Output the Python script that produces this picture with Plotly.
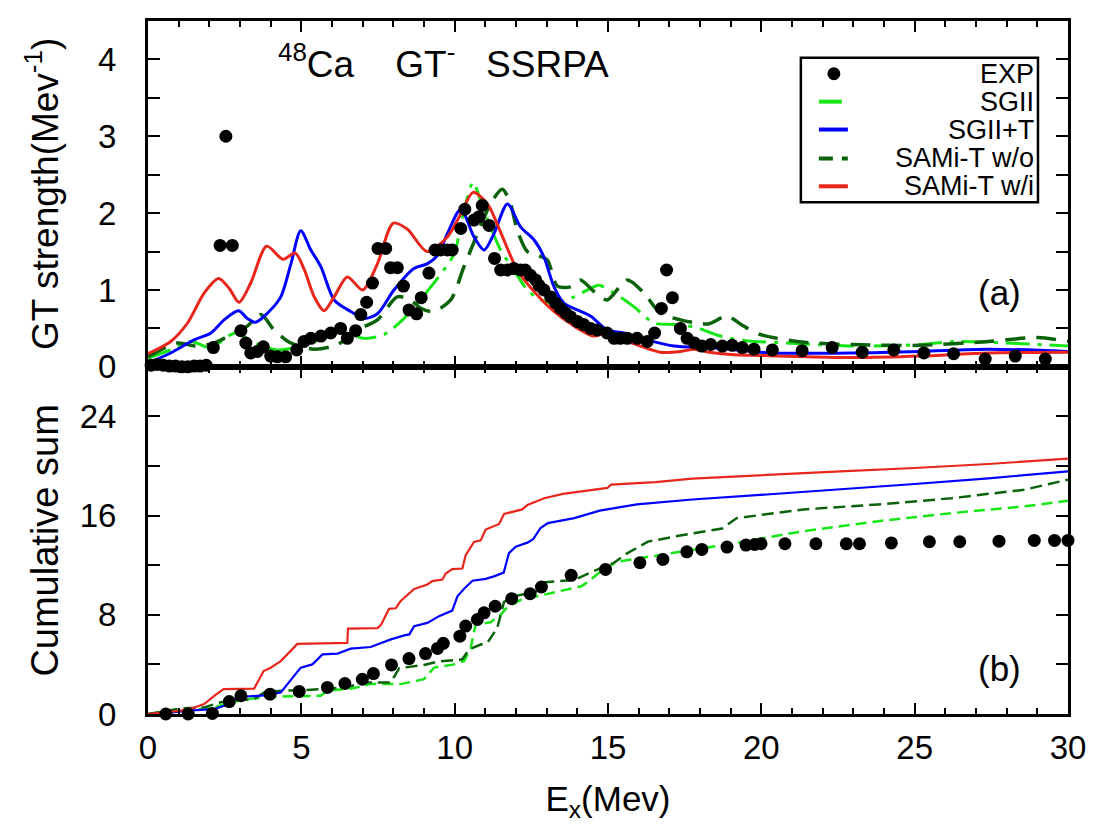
import plotly.graph_objects as go

# ---------------- top panel (a): GT strength ----------------
exp_e = [0.1, 0.3, 0.5, 0.7, 0.9, 1.1, 1.3, 1.5, 1.7, 1.9, 2.13, 2.35, 2.54, 2.75, 3.03, 3.19, 3.35, 3.57, 3.76,
         4.0, 4.22, 4.49, 4.85, 5.09, 5.31, 5.64, 5.96, 6.28, 6.5, 6.77, 6.94, 7.13, 7.32, 7.5, 7.75, 7.91,
         8.13, 8.33, 8.51, 8.76, 8.91, 9.16, 9.36, 9.54, 9.76, 9.92, 10.2, 10.33, 10.63, 10.79, 10.9, 11.12,
         11.3, 11.5, 11.72, 11.93, 12.15, 12.3, 12.47, 12.64, 12.75, 12.91, 13.13, 13.29, 13.45, 13.62, 13.78,
         14.0, 14.21, 14.43, 14.65, 14.97, 15.2, 15.4, 15.63, 15.95, 16.28, 16.52, 16.74, 16.91, 17.1, 17.36,
         17.58, 17.82, 18.06, 18.35, 18.73, 19.05, 19.38, 19.76, 20.36, 21.33, 22.31, 23.29, 24.32, 25.3,
         26.27, 27.3, 28.28, 29.26]
exp_s = [0.02, 0.03, 0.02, 0.01, 0.01, 0.0, 0.0, 0.01, 0.01, 0.02, 0.25, 1.58, 3.0, 1.58, 0.47, 0.31, 0.18, 0.20, 0.26,
         0.14, 0.13, 0.13, 0.22, 0.33, 0.37, 0.40, 0.44, 0.50, 0.37, 0.47, 0.68, 0.84, 1.09, 1.54, 1.54, 1.29,
         1.29, 1.05, 0.74, 0.69, 0.90, 1.22, 1.52, 1.52, 1.52, 1.52, 1.80, 2.05, 1.91, 1.95, 2.10, 1.84,
         1.41, 1.26, 1.26, 1.28, 1.26, 1.26, 1.19, 1.13, 1.06, 1.00, 0.91, 0.83, 0.76, 0.70, 0.65,
         0.59, 0.55, 0.50, 0.48, 0.44, 0.37, 0.37, 0.37, 0.37, 0.33, 0.44, 0.76, 1.26, 0.90, 0.50,
         0.37, 0.31, 0.27, 0.29, 0.27, 0.28, 0.25, 0.23, 0.22, 0.21, 0.25, 0.19, 0.22, 0.18,
         0.17, 0.10, 0.14, 0.10]

sgii_e = [0.0, 0.74, 1.4, 2.05, 2.7, 2.92, 3.46, 4.22, 4.98, 5.74, 6.39, 7.05, 7.7, 8.35, 9.0, 9.44, 9.98, 10.3,
          10.6, 10.85, 11.17, 11.5, 11.93, 12.37, 12.8, 13.24, 13.89, 14.43, 14.7, 15.2, 15.85, 16.5, 17.15,
          17.8, 18.67, 19.5, 20.8, 23.0, 25.2, 26.3, 28.5, 30.0]
sgii_s = [0.11, 0.22, 0.33, 0.25, 0.42, 0.44, 0.31, 0.22, 0.27, 0.37, 0.44, 0.37, 0.42, 0.63, 0.93, 1.15, 1.47, 2.03,
          2.40, 2.16, 1.82, 1.52, 1.26, 1.00, 0.87, 0.83, 0.91, 1.02, 1.06, 0.96, 0.78, 0.57, 0.55,
          0.52, 0.40, 0.34, 0.31, 0.27, 0.29, 0.33, 0.30, 0.27]

sgiit_e = [0.0, 0.74, 1.5, 2.05, 2.48, 2.95, 3.24, 3.51, 3.9, 4.33, 4.66, 4.98, 5.31, 5.64, 6.07, 6.61, 7.05, 7.48,
           8.02, 8.67, 9.1, 9.44, 9.76, 10.2, 10.63, 10.96, 11.28, 11.72, 12.15, 12.59, 12.91, 13.24, 13.56,
           14.0, 14.43, 14.97, 15.52, 16.28, 17.15, 18.24, 19.2, 20.3, 23.0, 25.2, 27.4, 30.0]
sgiit_s = [0.05, 0.18, 0.35, 0.44, 0.61, 0.73, 0.63, 0.58, 0.70, 0.91, 1.34, 1.77, 1.52, 1.30, 0.87, 0.72, 0.63, 0.69,
           1.00, 1.28, 1.34, 1.45, 1.73, 2.05, 1.69, 1.52, 1.73, 2.12, 1.82, 1.65, 1.43, 1.04, 0.83,
           0.74, 0.66, 0.48, 0.44, 0.35, 0.27, 0.25, 0.22, 0.18, 0.18, 0.20, 0.23, 0.20]

wo_e = [0.0, 0.96, 1.56, 2.16, 2.81, 3.24, 3.68, 4.11, 4.66, 5.42, 6.18, 6.83, 7.48, 8.13, 8.56, 8.9, 9.3, 9.87,
        10.3, 10.74, 11.17, 11.55, 11.8, 12.04, 12.37, 12.7, 13.02, 13.35, 13.78, 14.1, 14.54, 14.97, 15.63,
        16.17, 16.7, 17.36, 17.9, 18.3, 18.88, 19.42, 19.97, 21.4, 23.0, 25.2, 27.4, 29.0, 30.0]
wo_s = [0.13, 0.31, 0.27, 0.31, 0.44, 0.53, 0.68, 0.48, 0.31, 0.23, 0.29, 0.48, 0.61, 0.91, 0.87, 0.76, 0.72, 0.87,
        1.30, 1.73, 2.12, 2.31, 2.15, 1.78, 1.50, 1.45, 1.39, 1.05, 1.04, 1.13, 0.98, 0.87, 1.13,
        0.96, 0.70, 0.61, 0.57, 0.56, 0.66, 0.53, 0.42, 0.32, 0.29, 0.28, 0.33, 0.38, 0.33]

wi_e = [0.0, 0.74, 1.29, 1.83, 2.3, 2.65, 2.97, 3.35, 3.87, 4.4, 4.8, 5.1, 5.42, 5.74, 6.07, 6.5, 7.0, 7.48, 8.0,
        8.46, 9.1, 9.76, 10.2, 10.6, 11.07, 11.5, 12.04, 12.59, 13.24, 13.89, 14.54, 15.03, 15.52, 16.06,
        16.7, 17.36, 17.8, 18.3, 19.0, 20.0, 21.5, 23.0, 25.2, 27.4, 30.0]
wi_s = [0.17, 0.33, 0.57, 0.96, 1.15, 1.02, 0.84, 1.09, 1.57, 1.40, 1.48, 1.26, 0.91, 0.73, 0.91, 1.17, 1.00, 1.34, 1.87,
        1.79, 1.50, 1.69, 1.99, 2.27, 2.12, 1.75, 1.26, 0.98, 0.72, 0.53, 0.40, 0.45, 0.35, 0.27,
        0.19, 0.20, 0.23, 0.19, 0.16, 0.146, 0.13, 0.12, 0.14, 0.18, 0.19]

# ---------------- bottom panel (b): cumulative sum ----------------
cexp_e = [0.58, 1.31, 2.1, 2.65, 3.03, 3.98, 4.93, 5.85, 6.42, 6.99, 7.35, 7.94, 8.51, 9.05, 9.44, 9.63, 10.17,
          10.36, 10.74, 10.96, 11.32, 11.86, 12.46, 12.83, 13.8, 14.92, 16.04, 16.79, 17.57, 18.06, 18.88,
          19.5, 19.78, 19.99, 20.77, 21.78, 22.77, 23.2, 24.24, 25.48, 26.47, 27.75, 28.9, 29.56, 30.0]
cexp_c = [0.0, 0.0, 0.05, 1.0, 1.47, 1.6, 1.82, 2.14, 2.46, 2.8, 3.26, 3.96, 4.47, 4.87, 5.29, 5.7, 6.28,
          7.09, 7.62, 8.16, 8.69, 9.3, 9.7, 10.24, 11.18, 11.66, 12.2, 12.47, 13.08, 13.27, 13.46,
          13.62, 13.67, 13.73, 13.73, 13.73, 13.73, 13.73, 13.8, 13.89, 13.89, 13.94, 14.0, 14.0, 14.0]

csgii_e = [0.0, 1.29, 2.16, 2.59, 3.24, 4.0, 5.63, 5.85, 6.72, 7.26, 8.24, 9.0, 9.33, 9.98, 10.31, 10.52, 10.68,
           11.17, 11.5, 11.71, 12.15, 12.8, 14.13, 14.37, 14.86, 15.34, 17.15, 18.96, 21.38, 23.8, 26.2,
           28.6, 30.0]
csgii_c = [0.0, 0.27, 0.53, 0.86, 1.2, 1.39, 1.47, 1.87, 2.09, 2.41, 2.41, 2.81, 3.74, 4.0, 4.28, 5.29, 7.2,
           7.4, 8.0, 8.6, 9.2, 9.55, 10.3, 10.7, 11.7, 12.3, 13.0, 13.7, 14.75, 15.55, 16.2,
           16.75, 17.2]

csgiit_e = [0.0, 0.5, 1.29, 2.16, 2.48, 2.81, 3.08, 3.9, 4.33, 4.66, 4.98, 5.36, 5.69, 6.18, 6.61, 7.26, 7.92,
            8.36, 8.52, 8.68, 9.11, 9.49, 9.92, 10.09, 10.31, 10.58, 11.01, 11.28, 11.5, 11.6, 11.77, 11.99,
            12.37, 12.56, 12.8, 13.04, 13.9, 14.73, 15.94, 17.75, 20.17, 22.58, 25.0, 27.4, 30.0]
csgiit_c = [0.0, 0.05, 0.27, 0.4, 0.67, 1.12, 1.39, 1.52, 1.74, 2.8, 3.74, 4.0, 4.81, 4.87, 5.27, 5.4, 6.02,
            6.34, 6.42, 7.09, 7.35, 7.89, 8.34, 9.49, 10.1, 10.75, 10.9, 11.1, 11.28, 11.4, 12.97, 13.5,
            13.82, 14.1, 15.0, 15.4, 15.8, 16.4, 16.9, 17.3, 17.7, 18.1, 18.55, 19.0, 19.57]

cwo_e = [0.0, 1.07, 1.83, 2.37, 2.92, 3.46, 3.79, 4.33, 5.09, 5.74, 6.4, 7.15, 7.92, 8.19, 9.0, 9.44, 10.25,
         10.47, 10.85, 11.07, 11.39, 11.61, 11.93, 12.7, 12.8, 13.9, 14.5, 15.2, 15.58, 16.3, 17.15, 18.72,
         19.2, 21.38, 23.8, 26.2, 28.6, 30.0]
cwo_c = [0.0, 0.45, 0.53, 0.94, 1.12, 1.2, 1.74, 1.87, 1.93, 2.06, 2.14, 2.54, 2.54, 3.69, 3.96, 4.22, 4.41,
         5.21, 5.6, 5.75, 6.95, 9.04, 9.49, 9.9, 10.6, 10.8, 11.5, 12.2, 12.9, 13.9, 14.3, 14.96,
         15.8, 16.5, 16.9, 17.4, 18.1, 18.9]

cwi_e = [0.0, 0.5, 1.07, 1.5, 1.83, 2.16, 2.46, 3.46, 3.77, 4.0, 4.33, 4.87, 5.74, 6.5, 6.52, 7.48, 7.6, 7.86,
         8.08, 8.24, 8.68, 9.11, 9.27, 9.6, 9.71, 9.92, 10.25, 10.36, 10.63, 10.85, 11.01, 11.45, 11.61,
         12.2, 12.37, 12.92, 13.53, 14.13, 14.98, 15.1, 16.55, 17.75, 20.17, 22.58, 25.0, 27.4, 30.0]
cwi_c = [0.0, 0.1, 0.27, 0.5, 0.8, 1.47, 2.0, 2.05, 3.47, 3.73, 4.27, 5.65, 5.68, 5.73, 6.88, 6.93, 7.2, 8.48,
         8.53, 9.12, 10.08, 10.45, 10.72, 10.85, 11.33, 11.68, 11.73, 12.8, 13.87, 14.0, 14.88, 15.33, 16.13,
         16.5, 16.85, 17.4, 17.75, 17.96, 18.23, 18.5, 18.7, 18.98, 19.3, 19.57, 19.84, 20.16, 20.6]

legend_names = ["EXP", "SGII", "SGII+T", "SAMi-T w/o", "SAMi-T w/i"]

RED = "#e8261c"
BLUE = "#0000ff"
LGREEN = "#16e616"
DGREEN = "#0b620b"
FONT = "Liberation Sans, Arial, Helvetica, sans-serif"

fig = go.Figure()

# top panel
fig.add_trace(go.Scatter(x=sgii_e, y=sgii_s, mode="lines", xaxis="x2", yaxis="y2",
                         line=dict(color=LGREEN, width=3, dash="24px,8px,4px,8px", shape="spline", smoothing=0.8)))
fig.add_trace(go.Scatter(x=wo_e, y=wo_s, mode="lines", xaxis="x2", yaxis="y2",
                         line=dict(color=DGREEN, width=3.5, dash="20px,11px", shape="spline", smoothing=0.8)))
fig.add_trace(go.Scatter(x=sgiit_e, y=sgiit_s, mode="lines", xaxis="x2", yaxis="y2",
                         line=dict(color=BLUE, width=3, shape="spline", smoothing=0.8)))
fig.add_trace(go.Scatter(x=wi_e, y=wi_s, mode="lines", xaxis="x2", yaxis="y2",
                         line=dict(color=RED, width=3, shape="spline", smoothing=0.8)))
fig.add_trace(go.Scatter(x=exp_e, y=exp_s, mode="markers", xaxis="x2", yaxis="y2", cliponaxis=False,
                         marker=dict(color="black", size=13)))

# bottom panel
fig.add_trace(go.Scatter(x=csgii_e, y=csgii_c, mode="lines", xaxis="x", yaxis="y",
                         line=dict(color=LGREEN, width=2.5, dash="11px,6px")))
fig.add_trace(go.Scatter(x=cwo_e, y=cwo_c, mode="lines", xaxis="x", yaxis="y",
                         line=dict(color=DGREEN, width=2.5, dash="12px,6px")))
fig.add_trace(go.Scatter(x=csgiit_e, y=csgiit_c, mode="lines", xaxis="x", yaxis="y",
                         line=dict(color=BLUE, width=2.2)))
fig.add_trace(go.Scatter(x=cwi_e, y=cwi_c, mode="lines", xaxis="x", yaxis="y",
                         line=dict(color=RED, width=2.2)))
fig.add_trace(go.Scatter(x=cexp_e, y=cexp_c, mode="markers", xaxis="x", yaxis="y", cliponaxis=False,
                         marker=dict(color="black", size=13)))

SPLIT = 0.501
axis_common = dict(showline=True, linewidth=3, linecolor="black", mirror="ticks", showgrid=False,
                   zeroline=False, ticks="inside", tickwidth=1.5, tickcolor="black",
                   tickfont=dict(size=33, color="black", family=FONT))

fig.update_layout(
    width=1094, height=824,
    margin=dict(l=140, r=34, t=10, b=118),
    paper_bgcolor="white", plot_bgcolor="white",
    showlegend=False,
    font=dict(family=FONT, color="black"),
    xaxis=dict(domain=[0, 1], anchor="y", range=[0, 30], tick0=0, dtick=5, ticklen=11,
               minor=dict(dtick=1, ticklen=6, ticks="inside", tickwidth=1.5, tickcolor="black"),
               ticklabelstandoff=2,
               title=dict(text="E<sub>x</sub>(Mev)", font=dict(size=35), standoff=22),
               **axis_common),
    xaxis2=dict(domain=[0, 1], anchor="y2", matches="x", range=[0, 30], tick0=0, dtick=5, ticklen=11,
                minor=dict(dtick=1, ticklen=6, ticks="inside", tickwidth=1.5, tickcolor="black"),
                showticklabels=False, **axis_common),
    yaxis=dict(domain=[0, SPLIT], anchor="x", range=[0, 28], tick0=0, dtick=8, ticklen=12,
               minor=dict(dtick=4, ticklen=12, ticks="inside", tickwidth=1.5, tickcolor="black"),
               ticklabelstandoff=22,
               title=dict(text="Cumulative sum", font=dict(size=38), standoff=10),
               **axis_common),
    yaxis2=dict(domain=[SPLIT, 1], anchor="x2", range=[0, 4.5], tick0=0, dtick=1, ticklen=12,
                minor=dict(dtick=0.5, ticklen=12, ticks="inside", tickwidth=1.5, tickcolor="black"),
                ticklabelstandoff=22,
                title=dict(text="GT strength(Mev<sup>-1</sup>)", font=dict(size=37), standoff=29),
                **axis_common),
)

# ---- annotations: title and panel labels ----
NB = "\u00a0"
fig.add_annotation(xref="paper", yref="paper", x=0.3214, y=0.905, xanchor="center", yanchor="bottom",
                   text="<sup>48</sup>Ca" + NB * 4 + "GT<sup>-</sup>" + NB * 3 + "SSRPA",
                   showarrow=False, font=dict(size=37, family=FONT, color="black"))
fig.add_annotation(xref="paper", yref="paper", x=(992 - 140.5) / 919.5, y=(706 - 283) / 696,
                   xanchor="center", yanchor="middle", text="(a)", showarrow=False,
                   font=dict(size=35, family=FONT, color="black"))
fig.add_annotation(xref="paper", yref="paper", x=(992 - 140.5) / 919.5, y=(706 - 660) / 696,
                   xanchor="center", yanchor="middle", text="(b)", showarrow=False,
                   font=dict(size=35, family=FONT, color="black"))

# ---- custom legend (right-aligned labels as in the original) ----
def px(xp):
    return (xp - 140.5) / 919.5

def py(yp):
    return (706 - yp) / 696

fig.add_shape(type="rect", xref="paper", yref="paper", x0=px(793), x1=px(1030), y0=py(192), y1=py(47),
              line=dict(color="black", width=2.5), fillcolor="white", layer="above")
rows = [63, 91, 119, 148, 176]
styles = [None,
          dict(color=LGREEN, width=4, dash="solid", x1=834),
          dict(color=BLUE, width=4, dash="solid", x1=840),
          dict(color=DGREEN, width=4, dash="14px,9px", x1=840),
          dict(color=RED, width=4, dash="solid", x1=840)]
for name, ry, st in zip(legend_names, rows, styles):
    fig.add_annotation(xref="paper", yref="paper", x=px(1028), y=py(ry), xanchor="right", yanchor="middle",
                       text=name, showarrow=False, font=dict(size=27, family=FONT, color="black"))
    if st is None:
        fig.add_shape(type="circle", xref="paper", yref="paper", xsizemode="pixel", ysizemode="pixel",
                      xanchor=px(826), yanchor=py(ry), x0=-6.5, x1=6.5, y0=-6.5, y1=6.5,
                      fillcolor="black", line=dict(color="black", width=0), layer="above")
    else:
        fig.add_shape(type="line", xref="paper", yref="paper", x0=px(811), x1=px(st["x1"]), y0=py(ry), y1=py(ry),
                      line=dict(color=st["color"], width=st["width"], dash=st["dash"]), layer="above")

fig.write_html("out.html")
